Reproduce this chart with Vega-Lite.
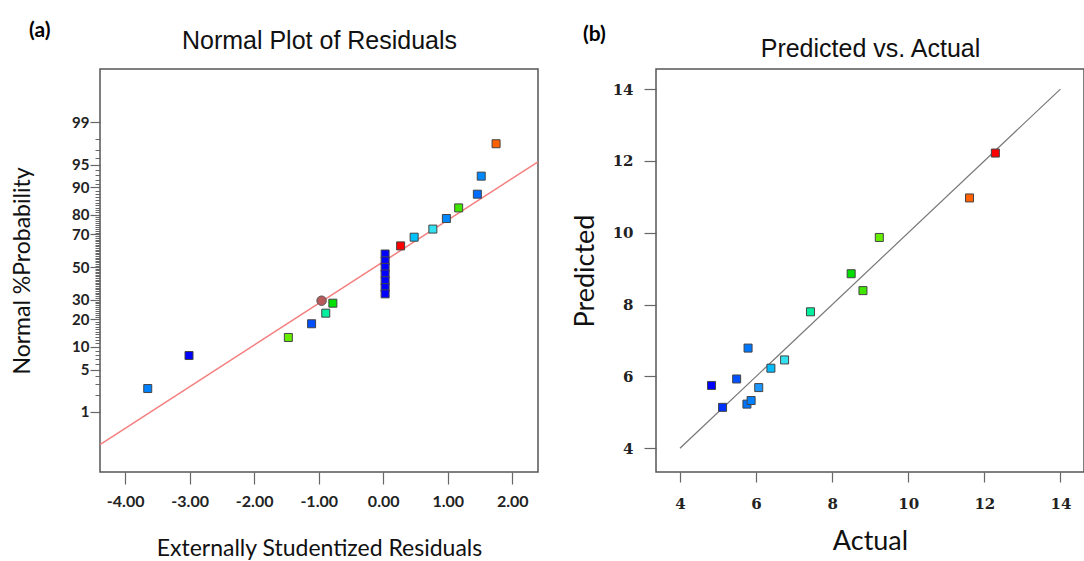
{
  "$schema": "https://vega.github.io/schema/vega-lite/v6.json",
  "background": "white",
  "padding": {"left": 10, "top": 19, "right": 0, "bottom": 0},
  "bounds": "flush",
  "spacing": 118,
  "config": {
    "view": {"stroke": "#555", "strokeWidth": 1.5},
    "axis": {"grid": false, "domain": false, "labelOverlap": false}
  },
  "datasets": {
    "lineA": [
      {"res": -4.39, "z": -2.85},
      {"res": 2.4, "z": 1.69}
    ],
    "pointsA": [
      {"res": -3.65, "z": -1.95, "actual": 5.87},
      {"res": -3.01, "z": -1.42, "actual": 4.83},
      {"res": -1.47, "z": -1.13, "actual": 9.24},
      {"res": -1.11, "z": -0.91, "actual": 5.49},
      {"res": -0.89, "z": -0.74, "actual": 7.43},
      {"res": -0.78, "z": -0.58, "actual": 8.5},
      {"res": 0.03, "z": 0.21, "actual": 4.83},
      {"res": 0.03, "z": 0.1, "actual": 4.83},
      {"res": 0.03, "z": -0.005, "actual": 4.83},
      {"res": 0.03, "z": -0.11, "actual": 4.83},
      {"res": 0.03, "z": -0.22, "actual": 4.83},
      {"res": 0.03, "z": -0.33, "actual": 4.83},
      {"res": 0.03, "z": -0.43, "actual": 4.83},
      {"res": 0.27, "z": 0.34, "actual": 12.29},
      {"res": 0.48, "z": 0.48, "actual": 6.45},
      {"res": 0.77, "z": 0.61, "actual": 6.75},
      {"res": 0.98, "z": 0.78, "actual": 5.95},
      {"res": 1.17, "z": 0.95, "actual": 8.81},
      {"res": 1.46, "z": 1.17, "actual": 5.7},
      {"res": 1.52, "z": 1.46, "actual": 5.95},
      {"res": 1.75, "z": 1.98, "actual": 11.61}
    ],
    "circleA": [
      {"res": -0.955, "z": -0.54}
    ],
    "lineB": [
      {"actual": 4, "pred": 4},
      {"actual": 14, "pred": 14}
    ],
    "pointsB": [
      {"actual": 4.83, "pred": 5.75},
      {"actual": 5.12, "pred": 5.14},
      {"actual": 5.49, "pred": 5.93},
      {"actual": 5.79, "pred": 6.79},
      {"actual": 5.76, "pred": 5.23},
      {"actual": 5.87, "pred": 5.33},
      {"actual": 6.07, "pred": 5.69},
      {"actual": 6.39, "pred": 6.23},
      {"actual": 6.75, "pred": 6.46},
      {"actual": 7.43, "pred": 7.8},
      {"actual": 8.5, "pred": 8.86},
      {"actual": 8.81, "pred": 8.39},
      {"actual": 9.24, "pred": 9.87},
      {"actual": 11.61, "pred": 10.97},
      {"actual": 12.29, "pred": 12.22}
    ]
  },
  "hconcat": [
    {
      "width": 438,
      "height": 403,
      "title": {"text": "(a)", "anchor": "start", "frame": "group", "dx": -71, "offset": -13, "font": "Lato", "fontSize": 21, "fontWeight": "bold", "color": "#000"},
      "layer": [
        {
          "data": {"name": "lineA"},
          "mark": {"type": "line", "color": "#f47f7f", "strokeWidth": 1.5, "clip": true},
          "encoding": {
            "x": {"field": "res", "type": "quantitative", "scale": {"domain": [-4.39, 2.4], "nice": false, "zero": false},
              "axis": {"orient": "top", "title": "Normal Plot of Residuals", "labels": false, "ticks": false, "domain": false, "titleFont": "Liberation Sans", "titleFontSize": 25, "titleFontWeight": "normal", "titleColor": "#111", "titlePadding": 16}},
            "y": {"field": "z", "type": "quantitative", "scale": {"domain": [-3.29, 3.18], "nice": false, "zero": false},
              "axis": {"orient": "left", "title": null, "labels": false, "tickCount": 50, "tickSize": 10, "tickColor": "#666", "tickWidth": 1.2,
                "values": [-2.3263, -1.6449, -1.2816, -0.8416, -0.5244, 0, 0.5244, 0.8416, 1.2816, 1.6449, 2.3263]}}
          }
        },
        {
          "data": {"name": "pointsA"},
          "mark": {"type": "point", "shape": "square", "filled": true, "size": 64, "stroke": "#444", "strokeWidth": 1, "opacity": 1},
          "encoding": {
            "x": {"field": "res", "type": "quantitative", "scale": {"domain": [-4.39, 2.4], "nice": false, "zero": false},
              "axis": {"orient": "bottom", "title": "Externally Studentized Residuals", "values": [-4, -3, -2, -1, 0, 1, 2],
                "labelExpr": "(datum.value < 0 ? '-' : '') + format(abs(datum.value), '.2f')",
                "labelFont": "Lato", "labelFontSize": 16, "labelFontWeight": "bold", "labelColor": "#222", "labelPadding": 9,
                "tickSize": 12, "tickColor": "#666", "tickWidth": 1.2,
                "titleFont": "Lato", "titleFontSize": 23, "titleFontWeight": "normal", "titleColor": "#111", "titlePadding": 28}},
            "y": {"field": "z", "type": "quantitative", "scale": {"domain": [-3.29, 3.18], "nice": false, "zero": false},
              "axis": {"orient": "left", "title": "Normal %Probability", "tickCount": 500, "ticks": true,
                "values": [-2.3263, -2.0537, -1.8808, -1.7507, -1.6449, -1.5548, -1.4758, -1.4051, -1.3408, -1.2816, -1.2265, -1.175, -1.1264, -1.0803, -1.0364, -0.9945, -0.9542, -0.9154, -0.8779, -0.8416, -0.8064, -0.7722, -0.7388, -0.7063, -0.6745, -0.6433, -0.6128, -0.5828, -0.5534, -0.5244, -0.4959, -0.4677, -0.4399, -0.4125, -0.3853, -0.3585, -0.3319, -0.3055, -0.2793, -0.2533, -0.2275, -0.2019, -0.1764, -0.151, -0.1257, -0.1004, -0.0753, -0.0502, -0.0251, 0, 0.0251, 0.0502, 0.0753, 0.1004, 0.1257, 0.151, 0.1764, 0.2019, 0.2275, 0.2533, 0.2793, 0.3055, 0.3319, 0.3585, 0.3853, 0.4125, 0.4399, 0.4677, 0.4959, 0.5244, 0.5534, 0.5828, 0.6128, 0.6433, 0.6745, 0.7063, 0.7388, 0.7722, 0.8064, 0.8416, 0.8779, 0.9154, 0.9542, 0.9945, 1.0364, 1.0803, 1.1264, 1.175, 1.2265, 1.2816, 1.3408, 1.4051, 1.4758, 1.5548, 1.6449, 1.7507, 1.8808, 2.0537, 2.3263],
                "labelExpr": "indexof([1, 5, 10, 20, 30, 50, 70, 80, 90, 95, 99], round(cumulativeNormal(datum.value) * 100)) >= 0 ? '' + round(cumulativeNormal(datum.value) * 100) : ''",
                "tickSize": 5, "tickColor": "#666", "tickWidth": 1, "tickOpacity": 1,
                "labelFont": "Lato", "labelFontSize": 15, "labelFontWeight": "bold", "labelColor": "#222", "labelPadding": 6,
                "titleFont": "Lato", "titleFontSize": 23, "titleFontWeight": "normal", "titleColor": "#111", "titlePadding": 37}},
            "color": {"field": "actual", "type": "quantitative", "legend": null,
              "scale": {"domain": [4.83, 5.49, 6.07, 6.75, 7.43, 8.5, 9.24, 11.61, 12.29], "range": ["#0000ff", "#0050ff", "#1e96ff", "#33e0f0", "#00f0a0", "#00e000", "#66ee00", "#ff6000", "#ff0000"]}}
          }
        },
        {
          "data": {"name": "circleA"},
          "mark": {"type": "point", "shape": "circle", "filled": true, "size": 90, "fill": "#b85a5a", "stroke": "#555", "strokeWidth": 1, "opacity": 1},
          "encoding": {
            "x": {"field": "res", "type": "quantitative", "axis": null},
            "y": {"field": "z", "type": "quantitative", "axis": null}
          }
        }
      ],
      "resolve": {"axis": {"x": "independent", "y": "independent"}}
    },
    {
      "width": 428,
      "height": 403,
      "title": {"text": "(b)", "anchor": "start", "frame": "group", "dx": -73, "offset": -9, "font": "Lato", "fontSize": 21, "fontWeight": "bold", "color": "#000"},
      "layer": [
        {
          "data": {"name": "lineB"},
          "mark": {"type": "line", "color": "#777", "strokeWidth": 1.2},
          "encoding": {
            "x": {"field": "actual", "type": "quantitative", "scale": {"domain": [3.37, 14.62], "nice": false, "zero": false},
              "axis": {"orient": "top", "title": "Predicted vs. Actual", "labels": false, "ticks": false, "domain": false, "titleFont": "Liberation Sans", "titleFontSize": 25, "titleFontWeight": "normal", "titleColor": "#111", "titlePadding": 8}},
            "y": {"field": "pred", "type": "quantitative", "scale": {"domain": [3.34, 14.56], "nice": false, "zero": false}}
          }
        },
        {
          "data": {"name": "pointsB"},
          "mark": {"type": "point", "shape": "square", "filled": true, "size": 64, "stroke": "#444", "strokeWidth": 1, "opacity": 1},
          "encoding": {
            "x": {"field": "actual", "type": "quantitative", "scale": {"domain": [3.37, 14.62], "nice": false, "zero": false},
              "axis": {"orient": "bottom", "title": "Actual", "values": [4, 6, 8, 10, 12, 14],
                "labelFont": "DejaVu Serif", "labelFontSize": 15, "labelFontWeight": "bold", "labelColor": "#222", "labelPadding": 14,
                "tickSize": 10, "tickColor": "#666", "tickWidth": 1.2,
                "titleFont": "Lato", "titleFontSize": 27, "titleFontWeight": "normal", "titleColor": "#111", "titlePadding": 17}},
            "y": {"field": "pred", "type": "quantitative", "scale": {"domain": [3.34, 14.56], "nice": false, "zero": false},
              "axis": {"title": "Predicted", "values": [4, 6, 8, 10, 12, 14],
                "labelFont": "DejaVu Serif", "labelFontSize": 15, "labelFontWeight": "bold", "labelColor": "#222", "labelPadding": 11,
                "tickSize": 12, "tickColor": "#666", "tickWidth": 1.2,
                "titleFont": "Lato", "titleFontSize": 27, "titleFontWeight": "normal", "titleColor": "#111", "titlePadding": 13}},
            "color": {"field": "actual", "type": "quantitative", "legend": null,
              "scale": {"domain": [4.83, 5.49, 6.07, 6.75, 7.43, 8.5, 9.24, 11.61, 12.29], "range": ["#0000ff", "#0050ff", "#1e96ff", "#33e0f0", "#00f0a0", "#00e000", "#66ee00", "#ff6000", "#ff0000"]}}
          }
        }
      ],
      "resolve": {"axis": {"x": "independent"}}
    }
  ]
}
